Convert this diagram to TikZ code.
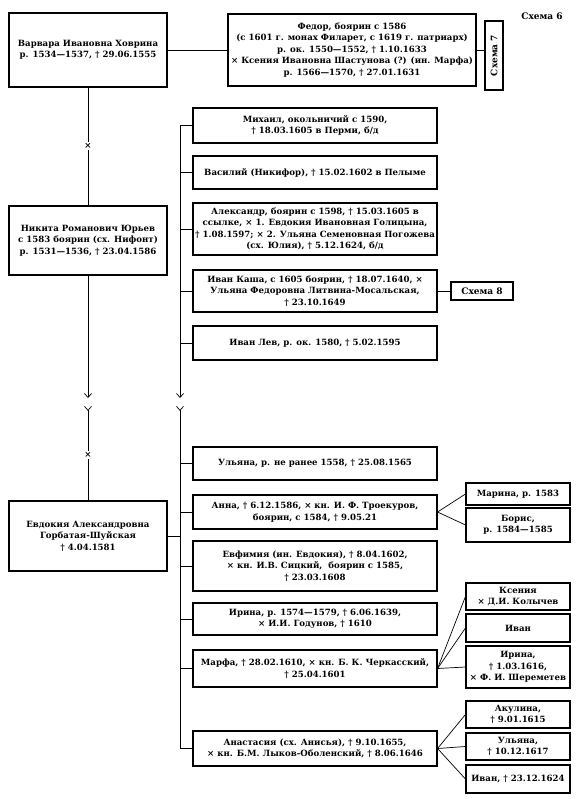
\documentclass[tikz,border=0pt]{standalone}
\usepackage{fontspec}
\setmainfont{DejaVu Serif}
\usepackage{tikz}
\usetikzlibrary{arrows.meta}

\begin{document}
\begin{tikzpicture}[x=1pt,y=-1pt,>={Straight Barb[length=4pt,width=7pt]},
    every node/.style={font=\bfseries\fontsize{8.6}{11.5}\selectfont,align=center,inner sep=0pt},
    person/.style={draw,line width=1.1pt,minimum width=158},
    kid/.style={draw,line width=1.1pt,minimum width=244},
    grand/.style={draw,line width=1.1pt,minimum width=104},
    label/.style={font=\bfseries\fontsize{9}{11.5}\selectfont},
    link/.style={line width=0.7pt}]

    \useasboundingbox (0,0) rectangle (580,799);

    % left column
    \node[person,minimum height=74] (varvara) at (88,50)  {Варвара Ивановна Ховрина\\р. 1534—1537, † 29.06.1555};
    \node[inner sep=1.5pt]          (wed1)    at (88,146) {×};
    \node[person,minimum height=69] (nikita)  at (88,240.5) {Никита Романович Юрьев\\с 1583 боярин (сх. Нифонт)\\р. 1531—1536, † 23.04.1586};
    \coordinate                     (brkA)    at (88,398);
    \coordinate                     (brkB)    at (88,406);
    \node[inner sep=1.5pt]          (wed2)    at (88,455) {×};
    \node[person,minimum height=70] (evdokia) at (88,536) {Евдокия Александровна\\Горбатая-Шуйская\\† 4.04.1581};

    % top row
    \node[draw,line width=1.1pt,minimum width=248,minimum height=72] (fedor) at (352,50) {Федор, боярин с 1586\\(с 1601 г. монах Филарет, с 1619 г. патриарх)\\р. ок. 1550—1552, † 1.10.1633\\× Ксения Ивановна Шастунова (?) (ин. Марфа)\\р. 1566—1570, † 27.01.1631};
    \node[draw,line width=1.1pt,minimum width=18,minimum height=69,label] (sch7) at (494,55.5) {\rotatebox{90}{Схема 7}};
    \node[label] (sch6) at (542,16) {Схема 6};

    % children, first marriage
    \coordinate (brkC) at (180,398);
    \coordinate (brkD) at (180,406);
    \node[kid,minimum height=35] (mikhail)   at (315,125.5) {Михаил, окольничий с 1590,\\† 18.03.1605 в Перми, б/д};
    \node[kid,minimum height=33] (vasily)    at (315,172.5) {Василий (Никифор), † 15.02.1602 в Пелыме};
    \node[kid,minimum height=52] (alexandr)  at (315,229)   {Александр, боярин с 1598, † 15.03.1605 в\\ссылке, × 1. Евдокия Ивановная Голицына,\\† 1.08.1597; × 2. Ульяна Семеновная Погожева\\(сх. Юлия), † 5.12.1624, б/д};
    \node[kid,minimum height=42] (ivankasha) at (315,291)   {Иван Каша, с 1605 боярин, † 18.07.1640, ×\\Ульяна Федоровна Литвина-Мосальская,\\† 23.10.1649};
    \node[draw,line width=1.1pt,minimum width=62,minimum height=18,label] (sch8) at (482,291) {Схема 8};
    \node[kid,minimum height=34] (ivanlev)   at (315,343)   {Иван Лев, р. ок. 1580, † 5.02.1595};

    % children, second marriage
    \node[kid,minimum height=33] (ulyana)     at (315,463.5) {Ульяна, р. не ранее 1558, † 25.08.1565};
    \node[kid,minimum height=34] (anna)       at (315,512)   {Анна, † 6.12.1586, × кн. И. Ф. Троекуров,\\боярин, с 1584, † 9.05.21};
    \node[kid,minimum height=50] (evfimiya)   at (315,566)   {Евфимия (ин. Евдокия), † 8.04.1602,\\× кн. И.В. Сицкий,\ \ боярин с 1585,\\† 23.03.1608};
    \node[kid,minimum height=32] (irina)      at (315,619)   {Ирина, р. 1574—1579, † 6.06.1639,\\× И.И. Годунов, † 1610};
    \node[kid,minimum height=37] (marfa)      at (315,668.5) {Марфа, † 28.02.1610, × кн. Б. К. Черкасский,\\† 25.04.1601};
    \node[kid,minimum height=35] (anastasiya) at (315,748.5) {Анастасия (сх. Анисья), † 9.10.1655,\\× кн. Б.М. Лыков-Оболенский, † 8.06.1646};

    % grandchildren
    \node[grand,minimum height=22] (marina)  at (518,494)   {Марина, р. 1583};
    \node[grand,minimum height=34] (boris)   at (518,525)   {Борис,\\р. 1584—1585};
    \node[grand,minimum height=27] (kseniya) at (518,596.5) {Ксения\\× Д.И. Колычев};
    \node[grand,minimum height=28] (ivanm)   at (518,628)   {Иван};
    \node[grand,minimum height=42] (irinam)  at (518,667)   {Ирина,\\† 1.03.1616,\\× Ф. И. Шереметев};
    \node[grand,minimum height=27] (akulina) at (518,714.5) {Акулина,\\† 9.01.1615};
    \node[grand,minimum height=27] (ulyanaa) at (518,746.5) {Ульяна,\\† 10.12.1617};
    \node[grand,minimum height=28] (ivana)   at (518,779)   {Иван, † 23.12.1624};

    % lines
    \draw[link] (varvara) edge (fedor);
    \draw[link] (fedor.east) -- (fedor.east -| sch7.west);
    \draw[link] (varvara) edge (wed1);
    \draw[link] (wed1) edge (nikita);
    \draw[link,->] (nikita) -- (brkA);
    \draw[link,>-] (brkB) -- (wed2);
    \draw[link] (wed2) edge (evdokia);

    \draw[link,->] (mikhail.west) -| (brkC);
    \foreach \n in {vasily,alexandr,ivankasha,ivanlev}
        \draw[link] (\n.west) -- (\n.west -| brkC);
    \draw[link] (ivankasha) edge (sch8);

    \draw[link,>-] (brkD) |- (anastasiya.west);
    \foreach \n in {ulyana,anna,evfimiya,irina,marfa}
        \draw[link] (\n.west) -- (\n.west -| brkD);
    \draw[link] (evdokia.east) -- (evdokia.east -| brkD);

    \draw[link] (anna.east) edge (marina.west) edge (boris.west);
    \draw[link] (marfa.east) edge (kseniya.west) edge (ivanm.west) edge (irinam.west);
    \draw[link] (anastasiya.east) edge (akulina.west) edge (ulyanaa.west) edge (ivana.west);
\end{tikzpicture}
\end{document}
